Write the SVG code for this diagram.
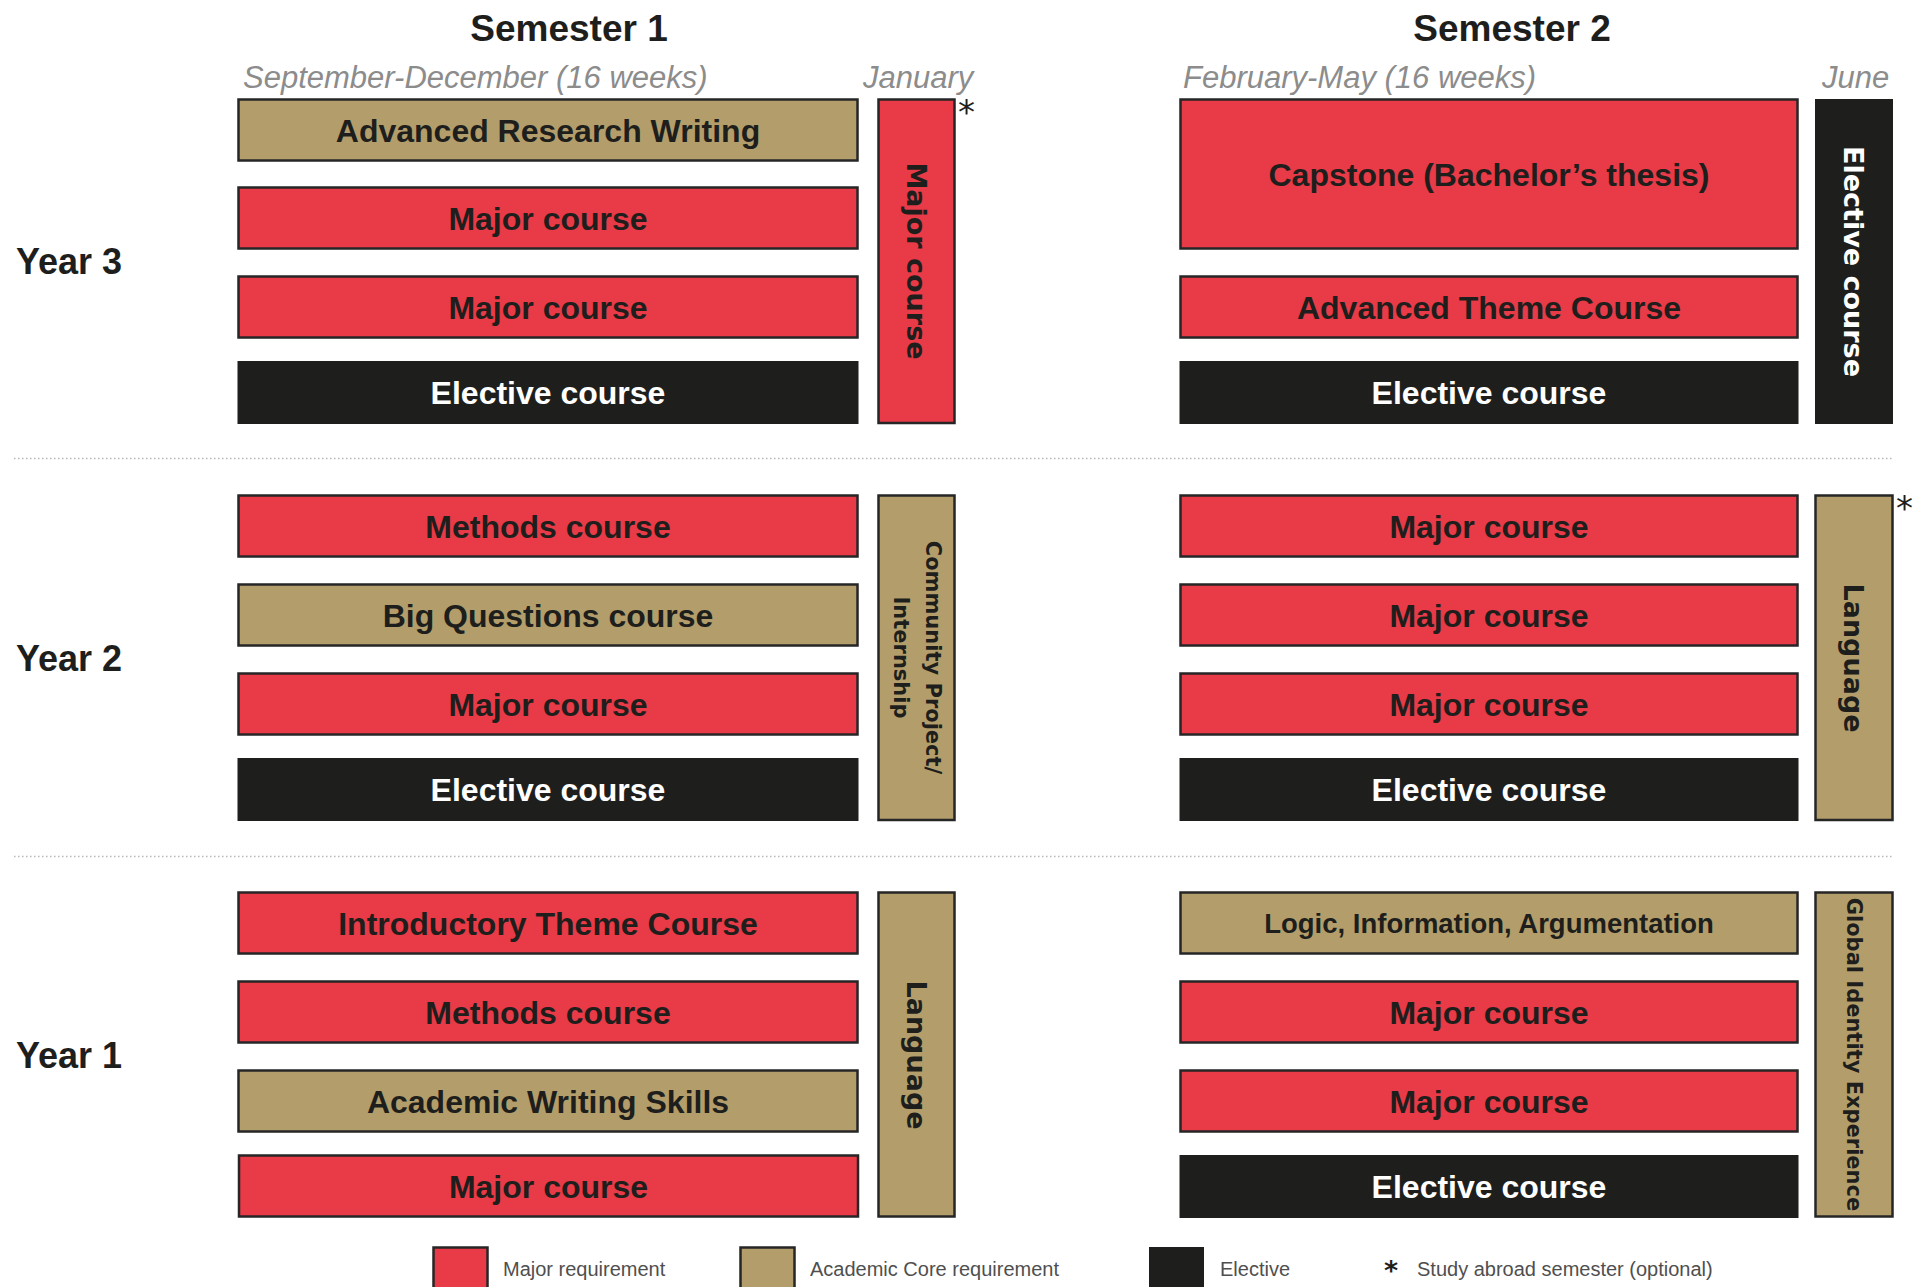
<svg xmlns="http://www.w3.org/2000/svg" width="1927" height="1287" viewBox="0 0 1927 1287">
<style>
.bg{fill:#ffffff}
.red{fill:#E83A47;stroke:#262626;stroke-width:2.5}
.tan{fill:#B39E6B;stroke:#262626;stroke-width:2.5}
.blk{fill:#1E1E1C}
.lbl{font-family:"Liberation Sans",Arial,sans-serif;font-weight:bold;font-size:32px;fill:#1E1E1C;text-anchor:middle}
.lbl.w{fill:#ffffff}
.lbl.s{font-size:27.5px}
.vl{font-family:"DejaVu Sans",Verdana,sans-serif;font-weight:bold;font-size:27px;fill:#1E1E1C;text-anchor:middle}
.vl.w{fill:#ffffff}
.vl.s{font-size:21px}
.title{font-family:"Liberation Sans",Arial,sans-serif;font-weight:bold;font-size:37px;fill:#1E1E1C;text-anchor:middle}
.year{font-family:"Liberation Sans",Arial,sans-serif;font-weight:bold;font-size:36px;fill:#1E1E1C}
.sub{font-family:"Liberation Sans",Arial,sans-serif;font-style:italic;font-size:31px;fill:#8C8C8C}
.leg{font-family:"Liberation Sans",Arial,sans-serif;font-size:20px;fill:#4F4F4F}
.ast{font-family:"DejaVu Sans",sans-serif;font-size:34px;fill:#1E1E1C}
.dot{stroke:#B8B8B8;stroke-width:1.5;stroke-dasharray:1.5 2.5;fill:none}
</style>
<rect class="bg" x="0" y="0" width="1927" height="1287"/>

<g id="headers">
<text class="title" x="569" y="41">Semester 1</text>
<text class="title" x="1512" y="41">Semester 2</text>
<text class="sub" x="243" y="88">September-December (16 weeks)</text>
<text class="sub" x="863" y="88">January</text>
<text class="sub" x="1183" y="88">February-May (16 weeks)</text>
<text class="sub" x="1822" y="88">June</text>
<text class="year" x="16" y="274">Year 3</text>
<text class="year" x="16" y="671">Year 2</text>
<text class="year" x="16" y="1068">Year 1</text>
</g>

<g id="separators">
<line class="dot" x1="14" y1="458.5" x2="1894" y2="458.5"/>
<line class="dot" x1="14" y1="856.5" x2="1894" y2="856.5"/>
</g>

<g id="connectors"/>

<!-- Year 3 -->
<g id="y3-s1-arw"><rect class="tan" x="238.5" y="99.5" width="619" height="61"/><text class="lbl" x="548" y="141.5">Advanced Research Writing</text></g>
<g id="y3-s1-major1"><rect class="red" x="238.5" y="187.5" width="619" height="61"/><text class="lbl" x="548" y="229.5">Major course</text></g>
<g id="y3-s1-major2"><rect class="red" x="238.5" y="276.5" width="619" height="61"/><text class="lbl" x="548" y="318.5">Major course</text></g>
<g id="y3-s1-elective"><rect class="blk" x="237.5" y="361" width="621" height="63"/><text class="lbl w" x="548" y="404">Elective course</text></g>
<g id="y3-jan"><rect class="red" x="878.5" y="99.5" width="76" height="323.5"/><text class="vl" transform="translate(916.5,261) rotate(90)" x="0" y="10">Major course</text><text class="ast" x="958" y="124">*</text></g>
<g id="y3-s2-capstone"><rect class="red" x="1180.5" y="99.5" width="617" height="149"/><text class="lbl" x="1489" y="185.5">Capstone (Bachelor’s thesis)</text></g>
<g id="y3-s2-theme"><rect class="red" x="1180.5" y="276.5" width="617" height="61"/><text class="lbl" x="1489" y="318.5">Advanced Theme Course</text></g>
<g id="y3-s2-elective"><rect class="blk" x="1179.5" y="361" width="619" height="63"/><text class="lbl w" x="1489" y="404">Elective course</text></g>
<g id="y3-june"><rect class="blk" x="1815" y="99" width="78" height="325"/><text class="vl w" transform="translate(1854,261.5) rotate(90)" x="0" y="10">Elective course</text></g>

<!-- Year 2 -->
<g id="y2-s1-methods"><rect class="red" x="238.5" y="495.5" width="619" height="61"/><text class="lbl" x="548" y="537.5">Methods course</text></g>
<g id="y2-s1-bigq"><rect class="tan" x="238.5" y="584.5" width="619" height="61"/><text class="lbl" x="548" y="626.5">Big Questions course</text></g>
<g id="y2-s1-major"><rect class="red" x="238.5" y="673.5" width="619" height="61"/><text class="lbl" x="548" y="715.5">Major course</text></g>
<g id="y2-s1-elective"><rect class="blk" x="237.5" y="758" width="621" height="63"/><text class="lbl w" x="548" y="801">Elective course</text></g>
<g id="y2-jan"><rect class="tan" x="878.5" y="495.5" width="76" height="324.5"/><text class="vl s" transform="translate(916.5,657.5) rotate(90)"><tspan x="0" y="-9">Community Project/</tspan><tspan x="0" y="23">Internship</tspan></text></g>
<g id="y2-s2-major1"><rect class="red" x="1180.5" y="495.5" width="617" height="61"/><text class="lbl" x="1489" y="537.5">Major course</text></g>
<g id="y2-s2-major2"><rect class="red" x="1180.5" y="584.5" width="617" height="61"/><text class="lbl" x="1489" y="626.5">Major course</text></g>
<g id="y2-s2-major3"><rect class="red" x="1180.5" y="673.5" width="617" height="61"/><text class="lbl" x="1489" y="715.5">Major course</text></g>
<g id="y2-s2-elective"><rect class="blk" x="1179.5" y="758" width="619" height="63"/><text class="lbl w" x="1489" y="801">Elective course</text></g>
<g id="y2-june"><rect class="tan" x="1815.5" y="495.5" width="77" height="324.5"/><text class="vl" transform="translate(1854,658) rotate(90)" x="0" y="10">Language</text><text class="ast" x="1896" y="520">*</text></g>

<!-- Year 1 -->
<g id="y1-s1-intro"><rect class="red" x="238.5" y="892.5" width="619" height="61"/><text class="lbl" x="548" y="934.5">Introductory Theme Course</text></g>
<g id="y1-s1-methods"><rect class="red" x="238.5" y="981.5" width="619" height="61"/><text class="lbl" x="548" y="1023.5">Methods course</text></g>
<g id="y1-s1-aws"><rect class="tan" x="238.5" y="1070.5" width="619" height="61"/><text class="lbl" x="548" y="1112.5">Academic Writing Skills</text></g>
<g id="y1-s1-major"><rect class="red" x="239" y="1155.5" width="619" height="61"/><text class="lbl" x="548.5" y="1197.5">Major course</text></g>
<g id="y1-jan"><rect class="tan" x="878.5" y="892.5" width="76" height="324"/><text class="vl" transform="translate(916.5,1055) rotate(90)" x="0" y="10">Language</text></g>
<g id="y1-s2-logic"><rect class="tan" x="1180.5" y="892.5" width="617" height="61"/><text class="lbl s" x="1489" y="933">Logic, Information, Argumentation</text></g>
<g id="y1-s2-major1"><rect class="red" x="1180.5" y="981.5" width="617" height="61"/><text class="lbl" x="1489" y="1023.5">Major course</text></g>
<g id="y1-s2-major2"><rect class="red" x="1180.5" y="1070.5" width="617" height="61"/><text class="lbl" x="1489" y="1112.5">Major course</text></g>
<g id="y1-s2-elective"><rect class="blk" x="1179.5" y="1155" width="619" height="63"/><text class="lbl w" x="1489" y="1198">Elective course</text></g>
<g id="y1-june"><rect class="tan" x="1815.5" y="892.5" width="77" height="324"/><text class="vl s" transform="translate(1854,1054.5) rotate(90)" x="0" y="7.5">Global Identity Experience</text></g>

<!-- Legend -->
<g id="legend">
<rect class="red" x="433.5" y="1247.5" width="54" height="60"/>
<text class="leg" x="503" y="1276">Major requirement</text>
<rect class="tan" x="740.5" y="1247.5" width="54" height="60"/>
<text class="leg" x="810" y="1276">Academic Core requirement</text>
<rect class="blk" x="1149" y="1247" width="55" height="60"/>
<text class="leg" x="1220" y="1276">Elective</text>
<text class="ast" x="1384" y="1280" style="font-size:27px;font-weight:bold">*</text>
<text class="leg" x="1417" y="1276">Study abroad semester (optional)</text>
</g>
</svg>
